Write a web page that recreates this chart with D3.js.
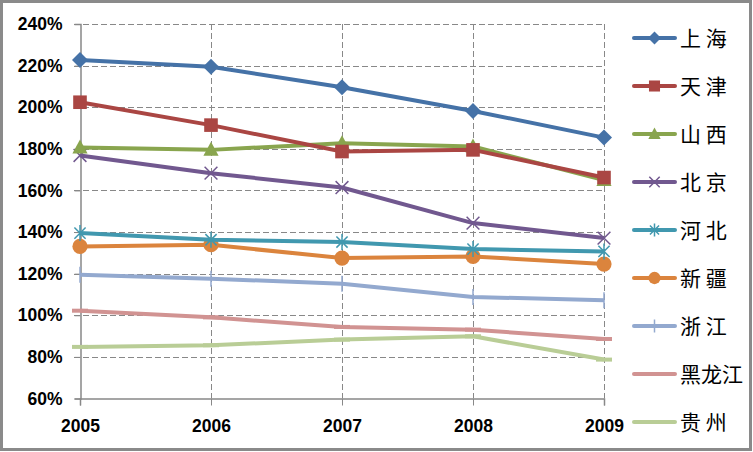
<!DOCTYPE html>
<html><head><meta charset="utf-8">
<script src="https://cdn.jsdelivr.net/npm/d3@7"></script>
<style>body{margin:0;background:#fff}svg{display:block}</style>
</head><body>
<svg id="c" width="753" height="452"></svg>
<script>
const years = ["2005","2006","2007","2008","2009"];
const yTicks = [60,80,100,120,140,160,180,200,220,240];
const names = ["上 海","天 津","山 西","北 京","河 北","新 疆","浙 江","黑龙江","贵 州"];
const shanghai = [222.7,219.5,209.6,198.2,185.4];
const tianjin = [202.4,191.4,178.7,179.5,166.2];
const shanxi = [180.6,179.5,182.7,181.1,165.0];
const beijing = [176.8,168.3,161.4,144.3,137.1];
const hebei = [139.5,136.3,135.2,131.8,130.7];
const xinjiang = [133.1,133.9,127.5,128.3,124.6];
const zhejiang = [119.5,117.6,115.1,108.8,107.2];
const heilongjiang = [102.2,99.0,94.4,93.1,88.6];
const guizhou = [84.8,85.6,88.3,89.9,78.7];
const colors = ["#4572A7","#AA4643","#89A54E","#71588F","#4198AF","#DB843D","#93A9CF","#D19392","#B9CD96"];
const markers = ["diamond","square","triangle","x","star","circle","plus","dash","dash"];
const seriesVals = [shanghai,tianjin,shanxi,beijing,hebei,xinjiang,zhejiang,heilongjiang,guizhou];

const svg = d3.select("#c");
svg.append("rect").attr("x",1.5).attr("y",1.5).attr("width",749).attr("height",448)
  .attr("fill","#fff").attr("stroke","#8a8a8a").attr("stroke-width",3);

const x = d3.scalePoint().domain(years).range([80,604]);
const y = d3.scaleLinear().domain([60,240]).range([398.5,24]);

const g = svg.append("g");
g.selectAll(".hg").data(yTicks.filter(d=>d>60)).join("line")
  .attr("x1",74).attr("x2",604).attr("y1",d=>Math.round(y(d))+0.5).attr("y2",d=>Math.round(y(d))+0.5)
  .attr("stroke","#888").attr("stroke-dasharray","6,3").attr("stroke-width",1);
g.selectAll(".vg").data(years.slice(1)).join("line")
  .attr("x1",d=>Math.round(x(d))+0.5).attr("x2",d=>Math.round(x(d))+0.5).attr("y1",24).attr("y2",398)
  .attr("stroke","#888").attr("stroke-dasharray","6,3").attr("stroke-width",1);

const yAxis = d3.axisLeft(y).tickValues(yTicks).tickSize(6).tickPadding(12).tickFormat(d=>d+"%");
const ya = svg.append("g").attr("transform","translate(80.5,0)").call(yAxis);
const xAxis = d3.axisBottom(x).tickSize(7).tickPadding(14);
const xa = svg.append("g").attr("transform","translate(0,398.5)").call(xAxis);
[ya,xa].forEach(a=>{
  a.select(".domain").attr("stroke","#888").attr("stroke-width",1.5);
  a.selectAll(".tick line").attr("stroke","#888");
  a.selectAll("text").attr("fill","#000").attr("font-family","'Liberation Sans',Arial,sans-serif")
    .attr("font-weight","bold").attr("font-size","17.5px");
});
xa.selectAll("text").attr("dy","0.71em");

function drawMarker(sel, type, color, s) {
  if (type==="diamond") {
    sel.append("path").attr("d",`M0,${-s}L${s},0L0,${s}L${-s},0Z`).attr("fill",color);
  } else if (type==="square") {
    const h=s*0.85;
    sel.append("rect").attr("x",-h).attr("y",-h).attr("width",2*h).attr("height",2*h).attr("fill",color);
  } else if (type==="triangle") {
    sel.append("path").attr("d",`M0,${-s}L${s*0.95},${s*0.75}L${-s*0.95},${s*0.75}Z`).attr("fill",color);
  } else if (type==="circle") {
    sel.append("circle").attr("r",s*0.95).attr("fill",color);
  } else if (type==="x") {
    const h=s*0.8;
    sel.append("path").attr("d",`M${-h},${-h}L${h},${h}M${-h},${h}L${h},${-h}`).attr("stroke",color).attr("stroke-width",1.5);
  } else if (type==="star") {
    const h=s*0.7;
    sel.append("path").attr("d",`M${-h},${-h}L${h},${h}M${-h},${h}L${h},${-h}M0,${-s}L0,${s}`).attr("stroke",color).attr("stroke-width",1.5);
  } else if (type==="plus") {
    sel.append("path").attr("d",`M0,${-s}L0,${s}`).attr("stroke",color).attr("stroke-width",1.5);
  } else if (type==="dash") {
    sel.append("rect").attr("x",-s).attr("y",-2).attr("width",2*s).attr("height",4).attr("fill",color);
  }
}

const line = d3.line().x((d,i)=>x(years[i])).y(d=>y(d));
for (let k=seriesVals.length-1;k>=0;k--) {
  const vals = seriesVals[k];
  const sg = svg.append("g");
  sg.append("path").attr("d",line(vals)).attr("fill","none").attr("stroke",colors[k])
    .attr("stroke-width",4).attr("stroke-linejoin","round");
  vals.forEach((v,i)=>{
    const m = sg.append("g").attr("transform",`translate(${x(years[i])},${y(v)})`);
    drawMarker(m, markers[k], colors[k], 8);
  });
}

const lg = svg.append("g");
names.forEach((n,k)=>{
  const cy = 38 + k*48;
  const row = lg.append("g").attr("transform",`translate(0,${cy})`);
  row.append("line").attr("x1",634).attr("x2",675).attr("y1",0).attr("y2",0)
    .attr("stroke",colors[k]).attr("stroke-width",4).attr("stroke-linecap","round");
  if (markers[k]!=="dash") {
    const m=row.append("g").attr("transform","translate(654.5,0)");
    drawMarker(m, markers[k], colors[k], 6.5);
  }
  row.append("text").attr("x",680).attr("y",0).attr("dy","0.36em")
    .attr("font-family","'Noto Sans CJK SC',sans-serif").attr("font-size","21px")
    .attr("fill","#000").style("white-space","pre").text(n);
});
</script>
</body></html>
